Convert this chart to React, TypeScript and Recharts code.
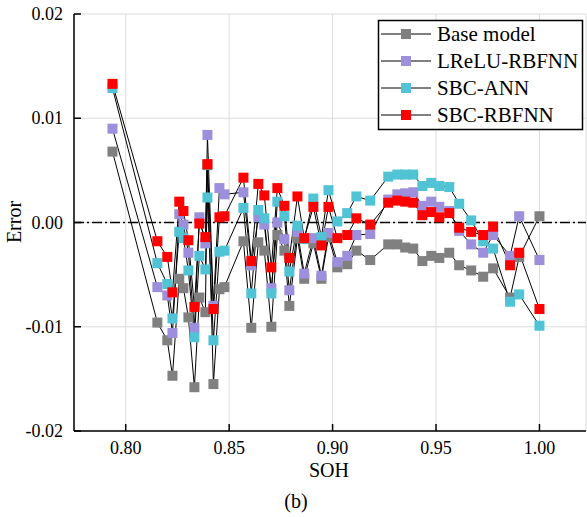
import React from 'react';
import { LineChart, Line, XAxis, YAxis, CartesianGrid, ReferenceLine } from 'recharts';

const SOH = [0.7936,0.8153,0.8201,0.8226,0.8259,0.8279,0.8303,0.8332,0.8356,0.8385,0.8395,0.8424,0.8453,0.8477,0.8569,0.8607,0.8641,0.8670,0.8704,0.8733,0.8767,0.8791,0.8830,0.8863,0.8907,0.8946,0.8980,0.9023,0.9071,0.9115,0.9182,0.9269,0.9313,0.9351,0.9390,0.9434,0.9477,0.9516,0.9564,0.9612,0.9670,0.9728,0.9776,0.9858,0.9902,1.0000];
const BASE_MODEL = [0.0068,-0.0096,-0.0113,-0.0147,-0.0054,-0.0063,-0.0091,-0.0158,-0.0072,-0.0086,0.0055,-0.0155,-0.0064,-0.0062,-0.0018,-0.0101,-0.0019,-0.0027,-0.0100,-0.0012,-0.0027,-0.0080,-0.0015,-0.0054,-0.0020,-0.0054,-0.0014,-0.0043,-0.0040,-0.0027,-0.0036,-0.0021,-0.0021,-0.0024,-0.0025,-0.0037,-0.0032,-0.0034,-0.0029,-0.0041,-0.0046,-0.0052,-0.0044,-0.0072,-0.0033,0.0006];
const LRELU_RBFNN = [0.0090,-0.0062,-0.0070,-0.0106,0.0008,-0.0002,-0.0029,-0.0101,0.0005,-0.0020,0.0084,-0.0080,0.0033,0.0027,0.0029,-0.0041,0.0005,-0.0002,-0.0063,0.0000,-0.0016,-0.0065,-0.0009,-0.0049,-0.0015,-0.0051,-0.0010,-0.0038,-0.0032,-0.0012,-0.0011,0.0022,0.0027,0.0028,0.0029,0.0016,0.0020,0.0015,0.0011,-0.0008,-0.0021,-0.0029,-0.0012,-0.0032,0.0006,-0.0036];
const SBC_ANN = [0.0129,-0.0039,-0.0059,-0.0092,-0.0009,-0.0015,-0.0046,-0.0110,-0.0032,-0.0045,0.0024,-0.0113,-0.0028,-0.0027,0.0014,-0.0068,0.0012,0.0004,-0.0068,0.0020,0.0006,-0.0047,-0.0003,-0.0016,0.0023,-0.0014,0.0031,0.0001,0.0009,0.0025,0.0021,0.0044,0.0046,0.0046,0.0046,0.0035,0.0038,0.0035,0.0034,0.0018,0.0002,-0.0018,-0.0025,-0.0076,-0.0069,-0.0099];
const SBC_RBFNN = [0.0133,-0.0018,-0.0033,-0.0067,0.0020,0.0011,-0.0017,-0.0081,-0.0001,-0.0014,0.0056,-0.0083,0.0005,0.0006,0.0043,-0.0037,0.0037,0.0026,-0.0043,0.0033,0.0016,-0.0034,0.0025,-0.0015,0.0015,-0.0022,0.0015,-0.0015,-0.0012,0.0004,-0.0002,0.0019,0.0021,0.0020,0.0019,0.0007,0.0010,0.0005,0.0009,-0.0005,-0.0009,-0.0012,-0.0004,-0.0041,-0.0029,-0.0083];

const X_TICKS = [0.8, 0.85, 0.9, 0.95, 1.0];
const Y_TICKS = [-0.02, -0.01, 0, 0.01, 0.02];

const SERIES = [
  { name: 'Base model', values: BASE_MODEL, color: '#808080' },
  { name: 'LReLU-RBFNN', values: LRELU_RBFNN, color: '#9d8fdc' },
  { name: 'SBC-ANN', values: SBC_ANN, color: '#50c3d5' },
  { name: 'SBC-RBFNN', values: SBC_RBFNN, color: '#ff0000' },
];

const FONT = '"Liberation Serif", "Times New Roman", serif';

const makeDot = (color: string, name: string) => (props: any) => {
  const { cx, cy, index } = props;
  if (cx == null || cy == null) return <g key={`${name}-${index}`} />;
  return <rect key={`${name}-${index}`} x={cx - 5} y={cy - 5} width={10} height={10} fill={color} />;
};

const XTick = (props: any) => {
  const { x, y, payload } = props;
  return (
    <text x={x} y={y} dy={12} textAnchor="middle" fill="#000" fontFamily={FONT} fontSize={18}>
      {Number(payload.value).toFixed(2)}
    </text>
  );
};

const YTick = (props: any) => {
  const { x, y, payload } = props;
  return (
    <text x={x} y={y} dy={6} textAnchor="end" fill="#000" fontFamily={FONT} fontSize={18}>
      {Number(payload.value).toFixed(2)}
    </text>
  );
};

export default function App() {
  const seriesData = SERIES.map((s) => ({
    ...s,
    data: SOH.map((x, i) => ({ soh: x, err: s.values[i] })),
  }));
  return (
    <div style={{ position: 'absolute', left: 0, top: 0, width: 587, height: 517, background: '#fff' }}>
      <LineChart width={587} height={517} margin={{ top: 14, right: 1, left: 0, bottom: 36 }}>
        <CartesianGrid stroke="#dcdcdc" strokeWidth={1} />
        <XAxis
          type="number"
          dataKey="soh"
          domain={[0.775, 1.0225]}
          ticks={X_TICKS}
          allowDataOverflow
          height={50}
          tickSize={-7}
          tickMargin={18}
          tick={<XTick />}
          axisLine={{ stroke: '#000', strokeWidth: 1.5 }}
          tickLine={{ stroke: '#000', strokeWidth: 1.5 }}
        />
        <XAxis
          xAxisId="top"
          orientation="top"
          type="number"
          domain={[0.775, 1.0225]}
          ticks={X_TICKS}
          allowDataOverflow
          height={0}
          tickSize={-7}
          tick={false}
          axisLine={{ stroke: '#000', strokeWidth: 1.5 }}
          tickLine={{ stroke: '#000', strokeWidth: 1.5 }}
        />
        <YAxis
          type="number"
          domain={[-0.02, 0.02]}
          ticks={Y_TICKS}
          allowDataOverflow
          width={74}
          tickSize={-7}
          tickMargin={18}
          tick={<YTick />}
          axisLine={{ stroke: '#000', strokeWidth: 1.5 }}
          tickLine={{ stroke: '#000', strokeWidth: 1.5 }}
        />
        <YAxis
          yAxisId="right"
          orientation="right"
          type="number"
          domain={[-0.02, 0.02]}
          ticks={Y_TICKS}
          allowDataOverflow
          width={0}
          tickSize={-7}
          tick={false}
          axisLine={{ stroke: '#000', strokeWidth: 1.5 }}
          tickLine={{ stroke: '#000', strokeWidth: 1.5 }}
        />
        <ReferenceLine y={0} stroke="#000" strokeWidth={1.5} strokeDasharray="10 3 2 3" />
        {seriesData.map((s) => (
          <Line
            key={s.name}
            data={s.data}
            dataKey="err"
            name={s.name}
            type="linear"
            stroke="#000"
            strokeWidth={1}
            dot={makeDot(s.color, s.name)}
            activeDot={false}
            isAnimationActive={false}
          />
        ))}
      </LineChart>
      <svg width={587} height={517} style={{ position: 'absolute', left: 0, top: 0, pointerEvents: 'none' }}>
        <text x={21} y={222} transform="rotate(-90 21 222)" textAnchor="middle" fontSize={20} fontFamily={FONT} fill="#000">Error</text>
        <text x={329} y={477} textAnchor="middle" fontSize={20} fontFamily={FONT} fill="#000">SOH</text>
        <text x={296} y={508} textAnchor="middle" fontSize={20} fontFamily={FONT} fill="#000">(b)</text>
        <rect x={378.5} y={20.5} width={204} height={109} fill="#fff" stroke="#000" strokeWidth={1.5} />
        {SERIES.map((s, i) => {
          const cy = 34 + i * 27;
          return (
            <g key={s.name}>
              <line x1={381} x2={431} y1={cy} y2={cy} stroke="#000" strokeWidth={1} />
              <rect x={401} y={cy - 5} width={10} height={10} fill={s.color} />
              <text x={437} y={cy + 7} fontSize={21} fontFamily={FONT} fill="#000">{s.name}</text>
            </g>
          );
        })}
      </svg>
    </div>
  );
}
